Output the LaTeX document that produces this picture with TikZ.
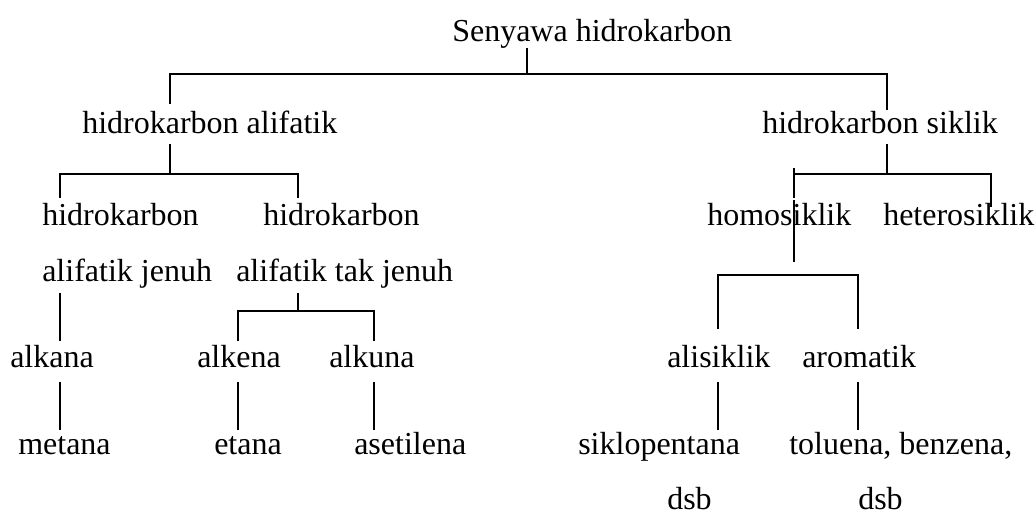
\documentclass[tikz,border=0pt]{standalone}
\usepackage{fontspec}
\setmainfont{Liberation Serif}
\begin{document}
\begin{tikzpicture}[x=0.75pt,y=-0.75pt,
  lbl/.style={anchor=base west,inner sep=0pt,font=\fontsize{24}{28}\selectfont},
  link/.style={draw=black,line width=1.1pt}]
\useasboundingbox (0,0) rectangle (1036,513);
% labels
\node[lbl] (root) at (452,42) {Senyawa hidrokarbon};
\node[lbl] (ali) at (82,134) {hidrokarbon alifatik};
\node[lbl] (sik) at (762,134) {hidrokarbon siklik};
\node[lbl] (jen1) at (42,226) {hidrokarbon};
\node[lbl] (jen2) at (42,282) {alifatik jenuh};
\node[lbl] (tak1) at (263,226) {hidrokarbon};
\node[lbl] (tak2) at (236,282) {alifatik tak jenuh};
\node[lbl] (homo) at (707,226) {homosiklik};
\node[lbl] (hetero) at (883,226) {heterosiklik};
\node[lbl] (alkana) at (10,368) {alkana};
\node[lbl] (alkena) at (197,368) {alkena};
\node[lbl] (alkuna) at (329,368) {alkuna};
\node[lbl] (alisik) at (667,368) {alisiklik};
\node[lbl] (arom) at (802,368) {aromatik};
\node[lbl] (metana) at (18,455) {metana};
\node[lbl] (etana) at (214,455) {etana};
\node[lbl] (asetil) at (354,455) {asetilena};
\node[lbl] (siklo) at (578,455) {siklopentana};
\node[lbl] (tolu) at (789,455) {toluena, benzena,};
\node[lbl] (dsb1) at (667,509) {dsb};
\node[lbl] (dsb2) at (858,509) {dsb};
% top level bracket
\coordinate (r0) at (527,48);
\coordinate (rL) at (170,74);
\coordinate (rR) at (887,74);
\draw[link] (r0) -- (r0 |- rL);
\draw[link] (170,104) -- (rL) -- (rR) -- (887,110);
% aliphatic branch
\coordinate (a0) at (170,144);
\coordinate (aL) at (60,174);
\coordinate (aR) at (298,174);
\draw[link] (a0) -- (a0 |- aL);
\draw[link] (60,198) -- (aL) -- (aR) -- (298,198);
% saturated chain
\coordinate (j0) at (60,293);
\draw[link] (j0) -- (60,341);
\draw[link] (60,382) -- (60,430);
% unsaturated branch
\coordinate (t0) at (298,293);
\coordinate (tL) at (238,311);
\coordinate (tR) at (374,311);
\draw[link] (t0) -- (t0 |- tL);
\draw[link] (238,341) -- (tL) -- (tR) -- (374,341);
\draw[link] (238,382) -- (238,430);
\draw[link] (374,382) -- (374,430);
% cyclic branch
\coordinate (s0) at (887,144);
\coordinate (sL) at (794,174);
\coordinate (sR) at (991,174);
\draw[link] (s0) -- (s0 |- sL);
\draw[link] (794,168) -- (794,198);
\draw[link] (sL) -- (sR) -- (991,207);
% homocyclic branch
\coordinate (h0) at (794,200);
\draw[link] (h0) -- (794,262);
\coordinate (hL) at (718,275);
\coordinate (hR) at (857,275);
\draw[link] (718,329) -- (hL) -- (hR);
\draw[link] (858,274) -- (858,329);
\draw[link] (718,382) -- (718,430);
\draw[link] (858,382) -- (858,430);
\end{tikzpicture}
\end{document}
